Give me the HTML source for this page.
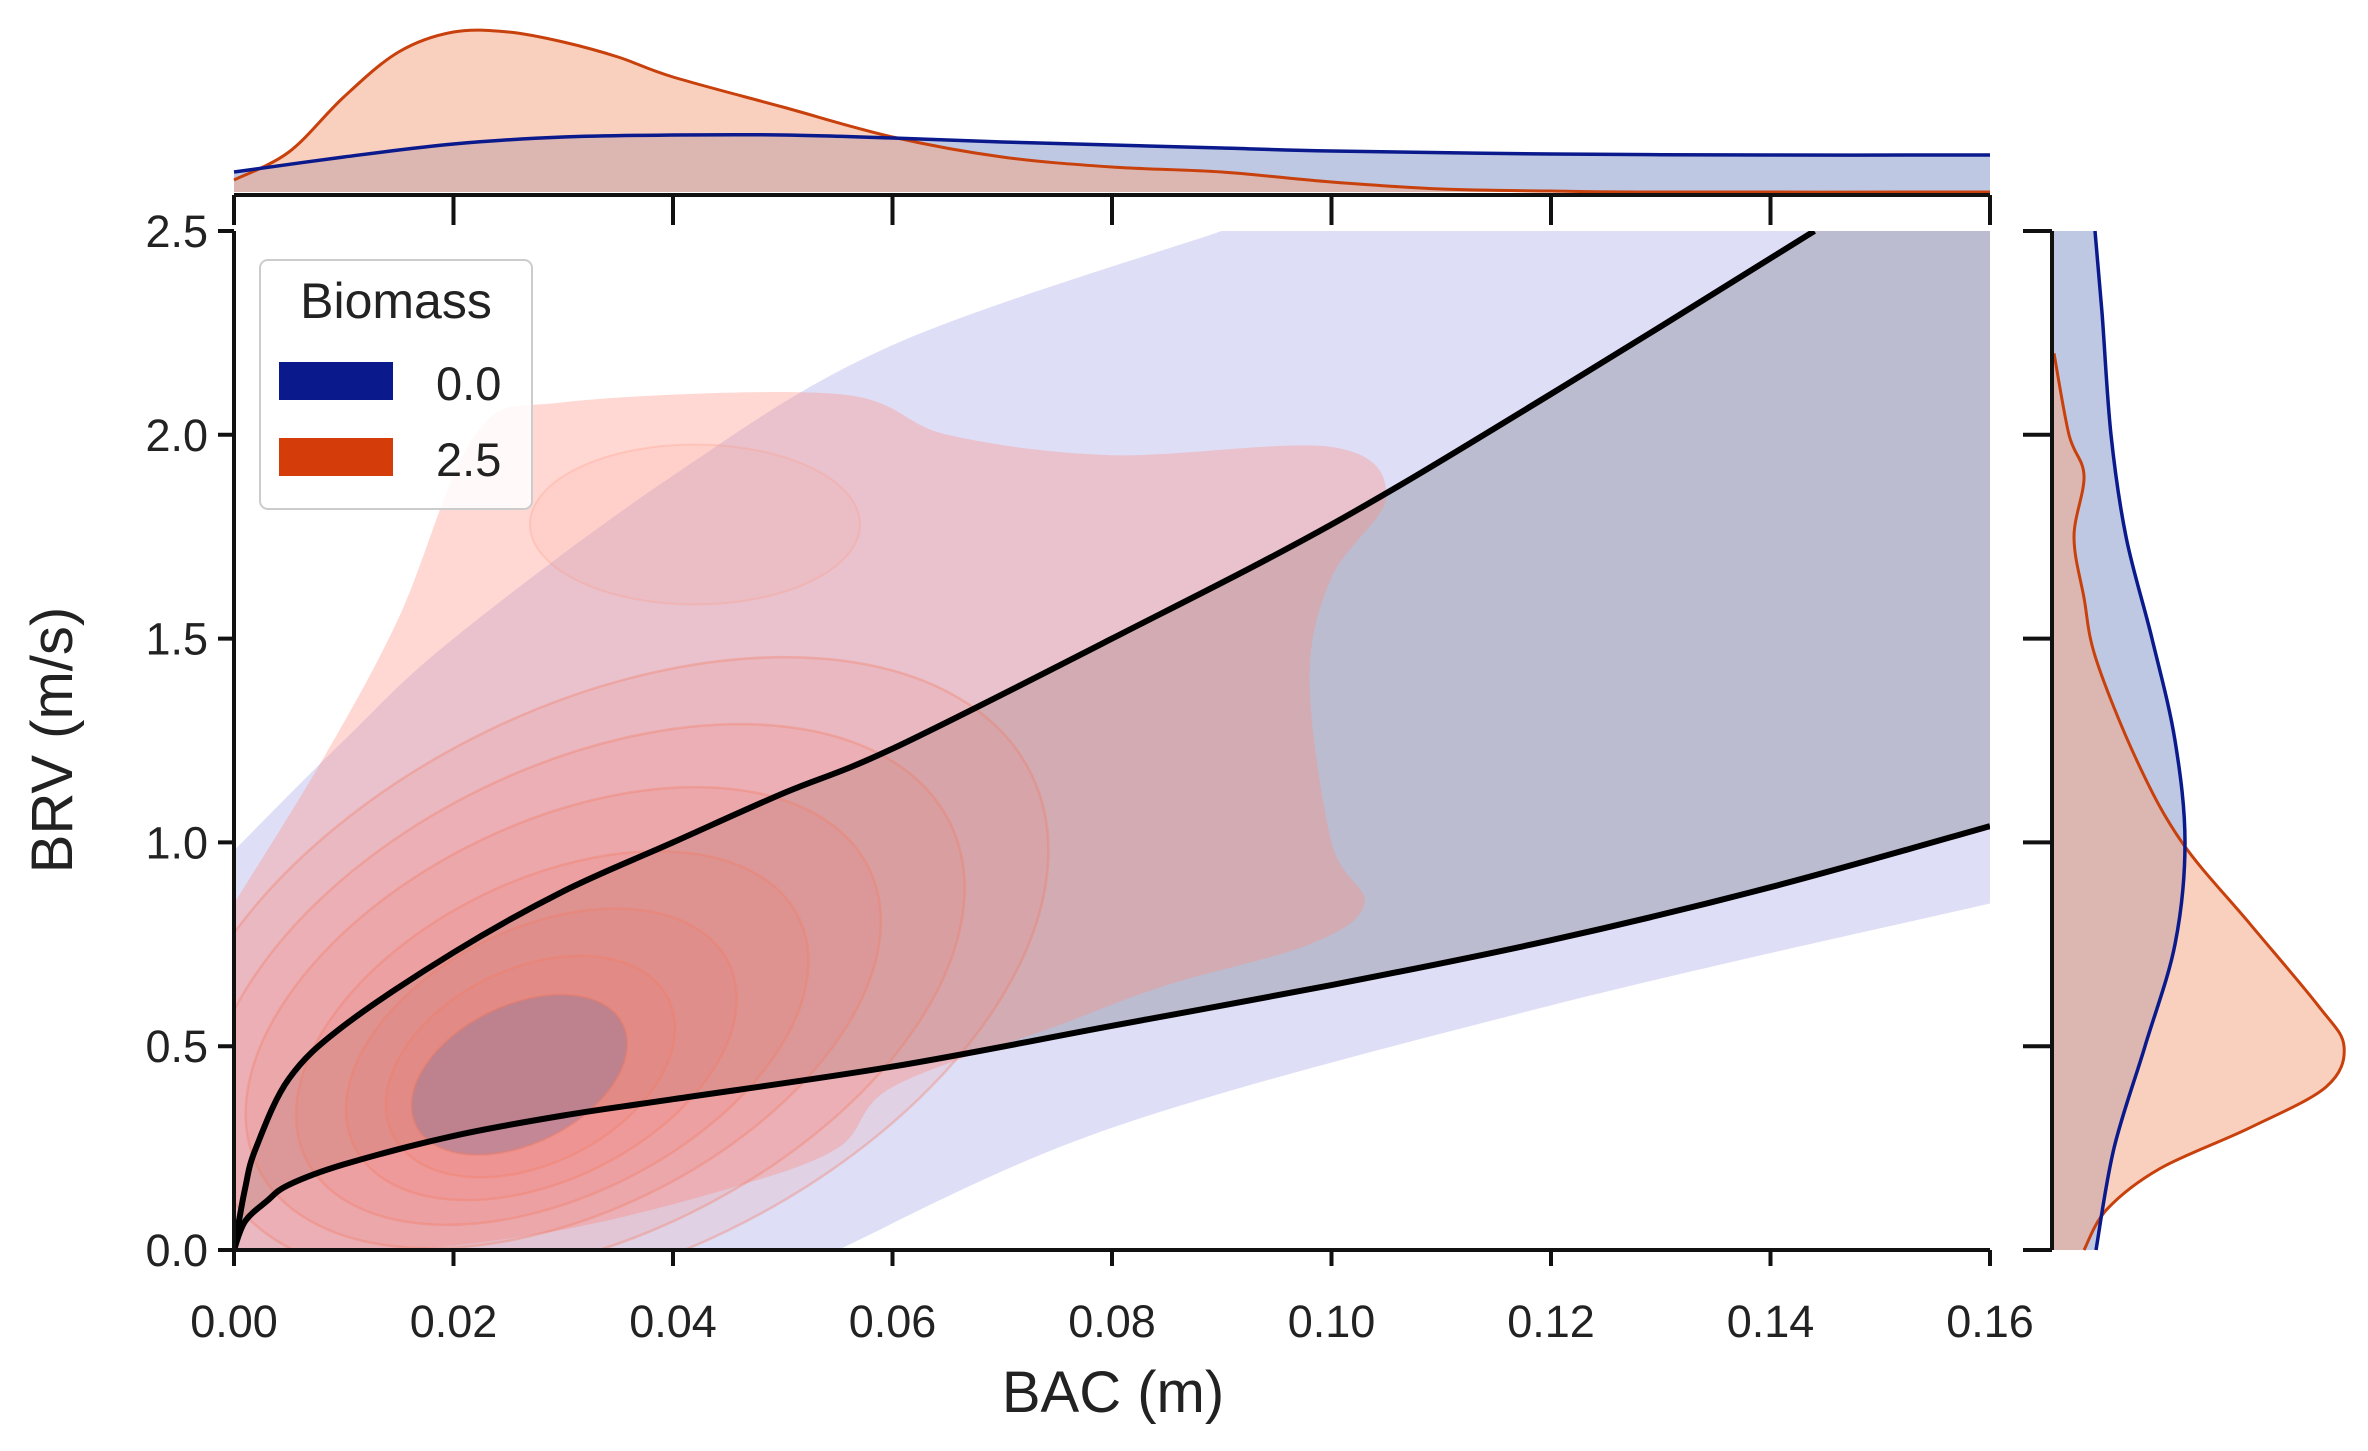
<!DOCTYPE html>
<html><head><meta charset="utf-8"><style>
html,body{margin:0;padding:0;background:#fff}
svg{display:block}
text{font-family:"Liberation Sans",sans-serif;fill:#222}
</style></head><body>
<svg id="chart" width="2368" height="1451" viewBox="0 0 2368 1451" xmlns="http://www.w3.org/2000/svg">
<defs><clipPath id="mainclip"><rect x="234" y="231" width="1756" height="1019"/></clipPath></defs>
<g id="main" clip-path="url(#mainclip)"></g>
<g id="marg"></g>
<g id="axes"></g>
<g>
<rect x="260" y="260" width="272" height="249" rx="8" fill="#fff" fill-opacity="0.85" stroke="#ccc" stroke-width="2"/>
<text x="396" y="318" font-size="50" text-anchor="middle">Biomass</text>
<rect x="279" y="362" width="114" height="38" fill="#0a1a8c"/>
<text x="436" y="400" font-size="47">0.0</text>
<rect x="279" y="438" width="114" height="38" fill="#d43d0a"/>
<text x="436" y="476" font-size="47">2.5</text>
</g>
</svg>
<script>
// ---- data ----
const xTicks=[0,0.02,0.04,0.06,0.08,0.10,0.12,0.14,0.16];
const xTickLabels=["0.00","0.02","0.04","0.06","0.08","0.10","0.12","0.14","0.16"];
const yTicks=[0,0.5,1.0,1.5,2.0,2.5];
const yTickLabels=["0.0","0.5","1.0","1.5","2.0","2.5"];
const upperX=[0,0.001,0.002,0.005,0.01,0.02,0.03,0.04,0.05,0.06,0.08,0.10,0.12,0.144];
const upperY=[0,0.15,0.25,0.42,0.55,0.73,0.88,1.0,1.12,1.23,1.5,1.78,2.1,2.5];
const lowerX=[0,0.001,0.003,0.005,0.01,0.02,0.03,0.04,0.06,0.08,0.10,0.12,0.14,0.16];
const lowerY=[0,0.07,0.12,0.16,0.21,0.28,0.33,0.37,0.45,0.55,0.65,0.76,0.89,1.04];
const blueTopX=[0,0.01,0.02,0.04,0.06,0.09];
const blueTopY=[0.98,1.25,1.5,1.9,2.22,2.5];
const blueBotX=[0.16,0.12,0.08,0.055];
const blueBotY=[0.85,0.6,0.3,0];
const redOuterX=[0,0.008,0.015,0.022,0.03,0.055,0.065,0.08,0.1,0.105,0.1,0.098,0.1,0.103,0.098,0.085,0.075,0.06,0.055,0.045,0.03,0.015,0];
const redOuterY=[0.85,1.2,1.55,2.0,2.08,2.1,2.0,1.95,1.97,1.85,1.65,1.4,1.0,0.85,0.75,0.65,0.55,0.4,0.25,0.15,0.05,0,0];
const redLvlCx=[0.034,0.032,0.030,0.029,0.028,0.027,0.026];
const redLvlCy=[0.66,0.61,0.57,0.52,0.48,0.45,0.43];
const redLvlRx=[0.043,0.037,0.031,0.025,0.019,0.014,0.0105];
const redLvlRy=[0.68,0.58,0.48,0.39,0.31,0.24,0.17];
const topMX=[0,0.005,0.01,0.015,0.02,0.025,0.03,0.035,0.04,0.05,0.06,0.07,0.08,0.09,0.10,0.11,0.12,0.13,0.16];
const topRed=[12,40,95,140,160,160,150,135,115,85,55,35,25,20,10,3,1,0,0];
const topBlueX=[0,0.01,0.02,0.03,0.04,0.05,0.06,0.07,0.08,0.09,0.10,0.12,0.14,0.16];
const topBlue=[20,35,48,55,57,57,54,50,47,44,41,38,37,37];
const rightY=[0,0.1,0.2,0.3,0.4,0.5,0.6,0.8,1.0,1.2,1.45,1.6,1.75,1.9,2.0,2.2];
const rightRed=[30,53,106,196,272,290,264,196,128,83,42,30,20,30,15,0];
const rightBlueY=[0,0.25,0.5,0.75,1.0,1.25,1.5,1.75,2.0,2.3,2.5];
const rightBlue=[42,60,91,121,131,121,98,72,57,48,41];
// ---- scales ----
const X=x=>234+x/0.16*1756, Y=y=>1250-y/2.5*1019;
const NS="http://www.w3.org/2000/svg";
function mk(tag,attrs,parent){const e=document.createElementNS(NS,tag);for(const k in attrs)e.setAttribute(k,attrs[k]);parent.appendChild(e);return e;}
function smooth(p){let d="M"+p[0][0]+","+p[0][1];for(let i=0;i<p.length-1;i++){const p0=p[Math.max(i-1,0)],p1=p[i],p2=p[i+1],p3=p[Math.min(i+2,p.length-1)];d+=" C"+(p1[0]+(p2[0]-p0[0])/6).toFixed(1)+","+(p1[1]+(p2[1]-p0[1])/6).toFixed(1)+" "+(p2[0]-(p3[0]-p1[0])/6).toFixed(1)+","+(p2[1]-(p3[1]-p1[1])/6).toFixed(1)+" "+p2[0].toFixed(1)+","+p2[1].toFixed(1);}return d;}
const main=document.getElementById('main'),marg=document.getElementById('marg'),axes=document.getElementById('axes');
const bt=smooth(blueTopX.map((x,i)=>[X(x),Y(blueTopY[i])]));
const bb=smooth(blueBotX.map((x,i)=>[X(x),Y(blueBotY[i])]));
let e=mk('path',{d:`M${X(0)},${Y(0)} L`+bt.slice(1)+` L${X(0.16)},${Y(2.5)} L`+bb.slice(1)+` L${X(0.033)},${Y(0)} Z`,fill:'#dedef6'},main);


const lowPts=lowerX.map((x,i)=>[X(x),Y(lowerY[i])]).reverse();
e=mk('path',{d:smooth(upperX.map((x,i)=>[X(x),Y(upperY[i])]))+" L1990,"+Y(2.5)+" L"+smooth(lowPts).slice(1)+"Z",fill:'#bcbcd0'},main);


e=mk('path',{d:smooth(redOuterX.map((x,i)=>[X(x),Y(redOuterY[i])]))+"Z",fill:'#ff8a78','fill-opacity':0.33},main);


e=mk('ellipse',{cx:X(0.042),cy:Y(1.78),rx:165,ry:80,fill:'#ff9a88','fill-opacity':0.12,stroke:'#ff9a88','stroke-opacity':0.3,'stroke-width':2},main);


redLvlCx.forEach((cx,i)=>{
  const c=mk('ellipse',{cx:X(cx),cy:Y(redLvlCy[i]),rx:(X(redLvlRx[i])-234),ry:(1250-Y(redLvlRy[i])),transform:`rotate(-26 ${X(cx)} ${Y(redLvlCy[i])})`,fill:i==6?'#9a7a98':'#f4705a','fill-opacity':i==6?0.5:0.11,stroke:'#f47a60','stroke-opacity':0.35,'stroke-width':2.5},main);
  
  
});
e=mk('path',{d:smooth(upperX.map((x,i)=>[X(x),Y(upperY[i])])),fill:'none',stroke:'#000','stroke-width':6},main);


e=mk('path',{d:smooth(lowerX.map((x,i)=>[X(x),Y(lowerY[i])])),fill:'none',stroke:'#000','stroke-width':6},main);


const TB=192;
function topPath(xs,hs){return xs.map((x,i)=>[X(x),TB-hs[i]]);}
let tb=topPath(topBlueX,topBlue);
e=mk('path',{d:smooth(tb)+` L1990,${TB} L234,${TB}Z`,fill:'#b8c2e0','fill-opacity':0.9},marg);


let tr=topPath(topMX,topRed);
e=mk('path',{d:smooth(tr)+` L1990,${TB} L234,${TB}Z`,fill:'#f4a888','fill-opacity':0.55},marg);


e=mk('path',{d:smooth(tr),fill:'none',stroke:'#c8400c','stroke-width':3},marg);


e=mk('path',{d:smooth(tb),fill:'none',stroke:'#0a1a8c','stroke-width':3.5},marg);


const RB=2054;
let rb=rightBlueY.map((y,i)=>[RB+rightBlue[i],Y(y)]);
e=mk('path',{d:`M${RB},${Y(0)} L`+smooth(rb).slice(1)+` L${RB},${Y(2.5)}Z`,fill:'#b8c2e0','fill-opacity':0.9},marg);


let rr=rightY.map((y,i)=>[RB+rightRed[i],Y(y)]);
e=mk('path',{d:`M${RB},${Y(0)} L`+smooth(rr).slice(1)+` L${RB},${Y(2.2)}Z`,fill:'#f4a888','fill-opacity':0.55},marg);


e=mk('path',{d:smooth(rr),fill:'none',stroke:'#c8400c','stroke-width':3},marg);


e=mk('path',{d:smooth(rb),fill:'none',stroke:'#0a1a8c','stroke-width':3.5},marg);


const ax='stroke:#111;stroke-width:4;fill:none';
e=mk('path',{d:`M234,231 L234,1250 L1990,1250`,style:ax},axes);


e=mk('path',{d:`M234,195 L1990,195 M2052,231 L2052,1250`,style:ax},axes);


xTicks.forEach((t,i)=>{
  const x=X(t);
  mk('path',{d:`M${x},1250 L${x},1266 M${x},195 L${x},225`,style:ax},axes);
  const tx=mk('text',{x:x,y:1337,'font-size':45,'text-anchor':'middle'},axes);
  tx.textContent=xTickLabels[i];
  
  
});
yTicks.forEach((t,i)=>{
  const y=Y(t);
  mk('path',{d:`M218,${y} L234,${y} M2052,${y} L2023,${y}`,style:ax},axes);
  const tx=mk('text',{x:208,y:y+16,'font-size':45,'text-anchor':'end'},axes);
  tx.textContent=yTickLabels[i];
  
  
});
e=mk('text',{x:1113,y:1412,'font-size':58,'text-anchor':'middle'},axes);
e.textContent='BAC (m)';


e=mk('text',{x:0,y:0,'font-size':58,'text-anchor':'middle',transform:'translate(72,740) rotate(-90)'},axes);
e.textContent='BRV (m/s)';


</script>
</body></html>
